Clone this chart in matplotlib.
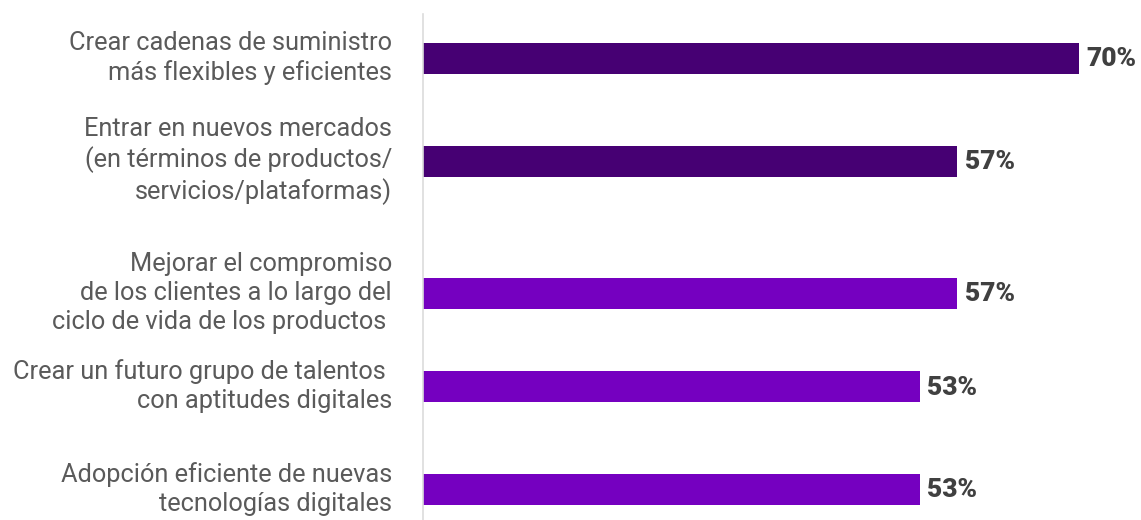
import matplotlib
matplotlib.use("Agg")
import matplotlib.pyplot as plt

categories = [
    "Crear cadenas de suministro\nmás flexibles y eficientes",
    "Entrar en nuevos mercados\n(en términos de productos/\nservicios/plataformas)",
    "Mejorar el compromiso\nde los clientes a lo largo del\nciclo de vida de los productos ",
    "Crear un futuro grupo de talentos \ncon aptitudes digitales",
    "Adopción eficiente de nuevas\ntecnologías digitales",
]
values = [70, 57, 57, 53, 53]
value_labels = ["70%", "57%", "57%", "53%", "53%"]

bar_colors = ["#460073", "#460073", "#7500C0", "#7500C0", "#7500C0"]
row_pos = [58, 161, 293, 386.5, 489]  # layout (pixel-like units)

W, H = 1141, 520
fig = plt.figure(figsize=(W / 100, H / 100), dpi=100)
left_px, right_px, top_px = 423, 1135, 14
ax = fig.add_axes([left_px / W, 0, (right_px - left_px) / W, (H - top_px) / H])
ax.set_ylim(H, top_px)
ax.set_xlim(0, (right_px - left_px) / 9.37)

ax.barh(row_pos, values, height=31, color=bar_colors, linewidth=0)

for y, v, lab in zip(row_pos, values, value_labels):
    ax.text(v + 0.8, y + 1, lab, ha="left", va="center", fontsize=19,
            fontweight="black", color="#404040", family=["Roboto", "DejaVu Sans"])

for y, c in zip(row_pos, categories):
    ax.text(-3.3, y, c, ha="right", va="center", fontsize=18.3,
            color="#5a5a5a", family=["Roboto", "DejaVu Sans"], linespacing=1.26)

for s in ["top", "right", "bottom"]:
    ax.spines[s].set_visible(False)
ax.spines["left"].set_color("#dcdcdc")
ax.spines["left"].set_linewidth(1.2)
ax.set_xticks([])
ax.set_yticks([])

fig.savefig("out.png", dpi=100)
